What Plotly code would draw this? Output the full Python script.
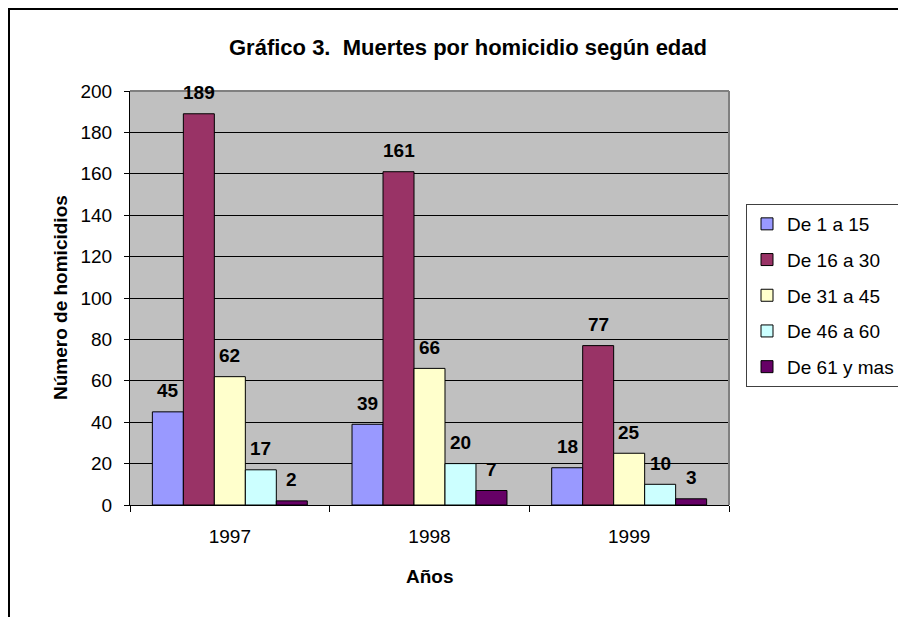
import plotly.graph_objects as go

years = ["1997", "1998", "1999"]
series_names = ["De 1 a 15", "De 16 a 30", "De 31 a 45", "De 46 a 60", "De 61 y mas"]
de_1_a_15 = [45, 39, 18]
de_16_a_30 = [189, 161, 77]
de_31_a_45 = [62, 66, 25]
de_46_a_60 = [17, 20, 10]
de_61_y_mas = [2, 7, 3]
series_values = [de_1_a_15, de_16_a_30, de_31_a_45, de_46_a_60, de_61_y_mas]
colors = ["#9999FF", "#993366", "#FFFFCC", "#CCFFFF", "#660066"]
y_ticks = [0, 20, 40, 60, 80, 100, 120, 140, 160, 180, 200]

FONT = "Liberation Sans, Arial, sans-serif"
OFF = 8  # page body margin in the browser
W, H = 906 - OFF, 617 - OFF
# target screen pixel positions of plot area
L, R, T, B = 130 - OFF, 729 - OFF, 91 - OFF, 505 - OFF
pw, ph = R - L, B - T

def px_x(sx):
    return (sx - OFF - L) / pw

def px_y(sy):
    return (B - (sy - OFF)) / ph

fig = go.Figure()
for i, (name, vals, col) in enumerate(zip(series_names, series_values, colors)):
    fig.add_trace(go.Bar(
        x=years, y=vals, name=name,
        marker=dict(color=col, line=dict(color="black", width=1)),
        legendgroup=name,
    ))

BARGAP = 0.224
bar_px = pw / 3 * (1 - BARGAP) / 5
annotations = []
for i, vals in enumerate(series_values):
    for j, v in enumerate(vals):
        annotations.append(dict(
            x=j, y=v, xref="x", yref="y", text=f"<b>{v}</b>",
            showarrow=False, xshift=(i - 2) * bar_px, yshift=21,
            xanchor="center", yanchor="middle",
            font=dict(family=FONT, size=19, color="black"),
        ))

annotations.append(dict(
    x=px_x(60), y=0.5, xref="paper", yref="paper", textangle=-90,
    xanchor="center", yanchor="middle",
    text="<b>Número de homicidios</b>", showarrow=False,
    font=dict(family=FONT, size=19, color="black"),
))
annotations.append(dict(
    x=0.5, y=px_y(576), xref="paper", yref="paper",
    xanchor="center", yanchor="middle",
    text="<b>Años</b>", showarrow=False,
    font=dict(family=FONT, size=19, color="black"),
))

shapes = [
    dict(type="line", xref="paper", yref="paper", x0=0, x1=1, y0=1, y1=1,
         line=dict(color="#808080", width=2)),
    dict(type="line", xref="paper", yref="paper", x0=1, x1=1, y0=0, y1=1,
         line=dict(color="#808080", width=2)),
    dict(type="rect", xref="paper", yref="paper",
         x0=(1 - L) / pw, x1=(W + 20 - L) / pw,
         y0=(B - (H + 20)) / ph, y1=(B - 1) / ph,
         line=dict(color="black", width=2), layer="below"),
]

fig.update_layout(
    width=W, height=H,
    margin=dict(l=L, r=W - R, t=T, b=H - B, autoexpand=False),
    paper_bgcolor="white", plot_bgcolor="#C0C0C0",
    barmode="group", bargap=BARGAP, bargroupgap=0,
    font=dict(family=FONT, size=19, color="black"),
    title=dict(text="<b>Gráfico 3.  Muertes por homicidio según edad</b>",
               x=(468 - OFF) / W, xref="container", xanchor="center",
               y=1 - (47 - OFF) / H, yref="container", yanchor="middle",
               font=dict(family=FONT, size=22, color="black")),
    legend=dict(x=px_x(746), y=px_y(204), xanchor="left", yanchor="top",
                bordercolor="#404040", borderwidth=1, bgcolor="white",
                font=dict(family=FONT, size=19, color="black"),
                traceorder="grouped", tracegroupgap=8),
    annotations=annotations,
    shapes=shapes,
    showlegend=True,
)
fig.update_yaxes(range=[0, 200], tickvals=y_ticks, ticks="outside", ticklen=5,
                 tickcolor="black", showline=True, linecolor="black", linewidth=1,
                 showgrid=True, gridcolor="black", gridwidth=1, zeroline=False,
                 tickfont=dict(family=FONT, size=19), ticklabelstandoff=8,
                 automargin=False)
fig.update_xaxes(type="category", range=[-0.5, 2.5], ticks="outside", ticklen=6,
                 tickcolor="black", tickson="boundaries", showline=True,
                 linecolor="black", linewidth=1, showgrid=False,
                 tickfont=dict(family=FONT, size=19), ticklabelstandoff=14,
                 automargin=False, tickangle=0)

fig.write_html("out.html")
